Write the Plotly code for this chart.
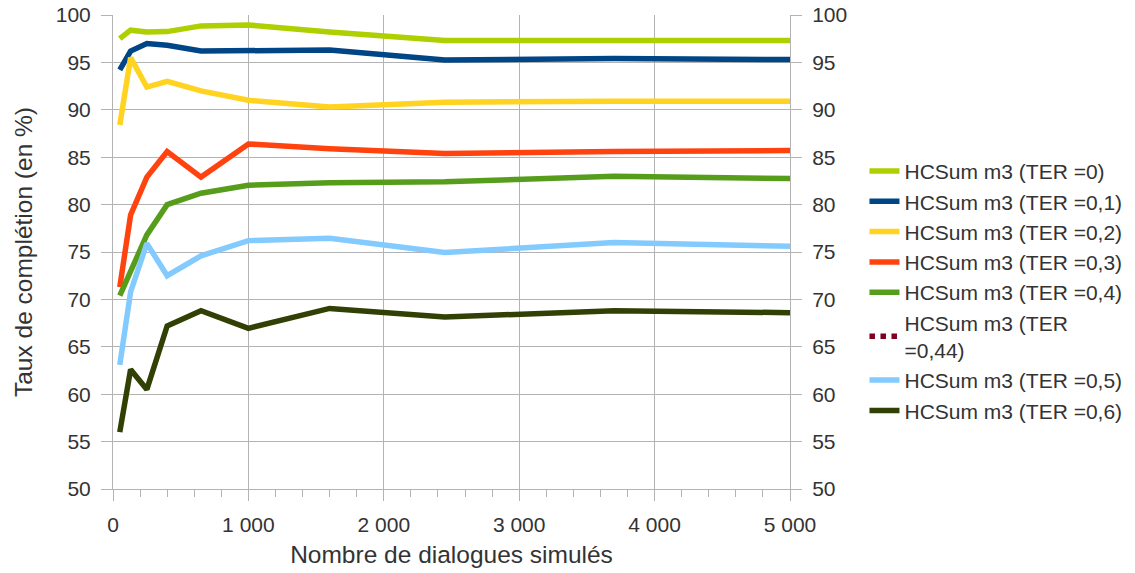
import plotly.graph_objects as go

x_dialogues = [50, 130, 250, 400, 650, 1000, 1600, 2450, 3700, 5000]

ter_0 = [97.5, 98.4, 98.2, 98.25, 98.85, 98.95, 98.2, 97.3, 97.3, 97.3]
ter_01 = [94.2, 96.2, 97.0, 96.8, 96.2, 96.2, 96.3, 95.25, 95.4, 95.3]
ter_02 = [88.4, 95.5, 92.4, 93.0, 92.0, 91.0, 90.3, 90.8, 90.9, 90.9]
ter_03 = [71.3, 78.9, 82.9, 85.6, 82.9, 86.4, 85.9, 85.4, 85.6, 85.7]
ter_04 = [70.4, 73.0, 76.8, 80.0, 81.2, 82.05, 82.3, 82.4, 83.0, 82.75]
ter_044 = []
ter_05 = [63.1, 70.8, 75.9, 72.5, 74.6, 76.2, 76.45, 74.95, 76.0, 75.6]
ter_06 = [56.0, 62.6, 60.5, 67.2, 68.8, 66.95, 69.05, 68.15, 68.8, 68.6]

series_names = [
    "HCSum m3 (TER =0)",
    "HCSum m3 (TER =0,1)",
    "HCSum m3 (TER =0,2)",
    "HCSum m3 (TER =0,3)",
    "HCSum m3 (TER =0,4)",
    "HCSum m3 (TER<br>=0,44)",
    "HCSum m3 (TER =0,5)",
    "HCSum m3 (TER =0,6)",
]
series_values = [ter_0, ter_01, ter_02, ter_03, ter_04, ter_044, ter_05, ter_06]
colors = ["#aecf00", "#004586", "#ffd320", "#ff420e", "#579d1c", "#7e0021", "#83caff", "#314004"]

x_tickvals = [0, 1000, 2000, 3000, 4000, 5000]
x_ticktext = ["0", "1 000", "2 000", "3 000", "4 000", "5 000"]
y_tickvals = [50, 55, 60, 65, 70, 75, 80, 85, 90, 95, 100]

fig = go.Figure()
for i, (name, vals, col) in enumerate(zip(series_names, series_values, colors)):
    if vals:
        fig.add_trace(go.Scatter(x=x_dialogues, y=vals, mode="lines", name=name,
                                 legendgroup=f"g{i}",
                                 line=dict(color=col, width=5.5)))
    else:
        fig.add_trace(go.Scatter(x=[None], y=[None], mode="lines", name=name,
                                 legendgroup=f"g{i}",
                                 line=dict(color=col, width=5.5, dash="dot")))

# invisible trace so that the mirrored right-hand axis gets drawn
fig.add_trace(go.Scatter(x=x_dialogues, y=ter_0, mode="lines", yaxis="y2",
                         showlegend=False, hoverinfo="skip", opacity=0,
                         line=dict(color=colors[0], width=0.1)))

grid_col = "#b3b3b3"
font_col = "#333333"
fam = "Liberation Sans, Arial, sans-serif"
fig.update_layout(
    width=1135, height=573,
    margin=dict(l=113, r=345, t=15, b=84, autoexpand=False),
    paper_bgcolor="white", plot_bgcolor="white",
    font=dict(family=fam, size=21, color=font_col),
    showlegend=True,
    legend=dict(x=1.11, y=0.418, xanchor="left", yanchor="middle",
                font=dict(size=21, color=font_col), tracegroupgap=0,
                itemwidth=30, bgcolor="rgba(0,0,0,0)"),
    xaxis=dict(range=[0, 5000], tickvals=x_tickvals, ticktext=x_ticktext,
               showgrid=True, gridcolor=grid_col, gridwidth=1,
               showline=True, linecolor=grid_col, linewidth=1,
               ticks="outside", ticklen=11, tickcolor=grid_col,
               ticklabelstandoff=6, ticklabeloverflow="allow",
               minor=dict(dtick=200, ticks="outside", ticklen=7, tickcolor=grid_col, showgrid=False),
               zeroline=False, automargin=False,
               title=dict(text="Nombre de dialogues simulés", font=dict(size=24.5, color=font_col), standoff=10)),
    yaxis=dict(range=[50, 100], tickvals=y_tickvals,
               showgrid=True, gridcolor=grid_col, gridwidth=1,
               showline=True, linecolor=grid_col, linewidth=1,
               ticks="outside", ticklen=11, tickcolor=grid_col,
               ticklabelstandoff=6, ticklabeloverflow="allow",
               zeroline=False, automargin=False,
               title=dict(text="Taux de complétion (en %)", font=dict(size=24.5, color=font_col), standoff=16)),
    yaxis2=dict(range=[50, 100], tickvals=y_tickvals, overlaying="y", side="right",
                showgrid=False, showline=True, linecolor=grid_col, linewidth=1,
                ticks="outside", ticklen=11, tickcolor=grid_col, ticklabelstandoff=6,
                ticklabeloverflow="allow",
                zeroline=False, automargin=False),
)

fig.write_html("out.html", config={"displayModeBar": False},
               post_script="document.body.style.margin='0';document.body.style.padding='0';")
